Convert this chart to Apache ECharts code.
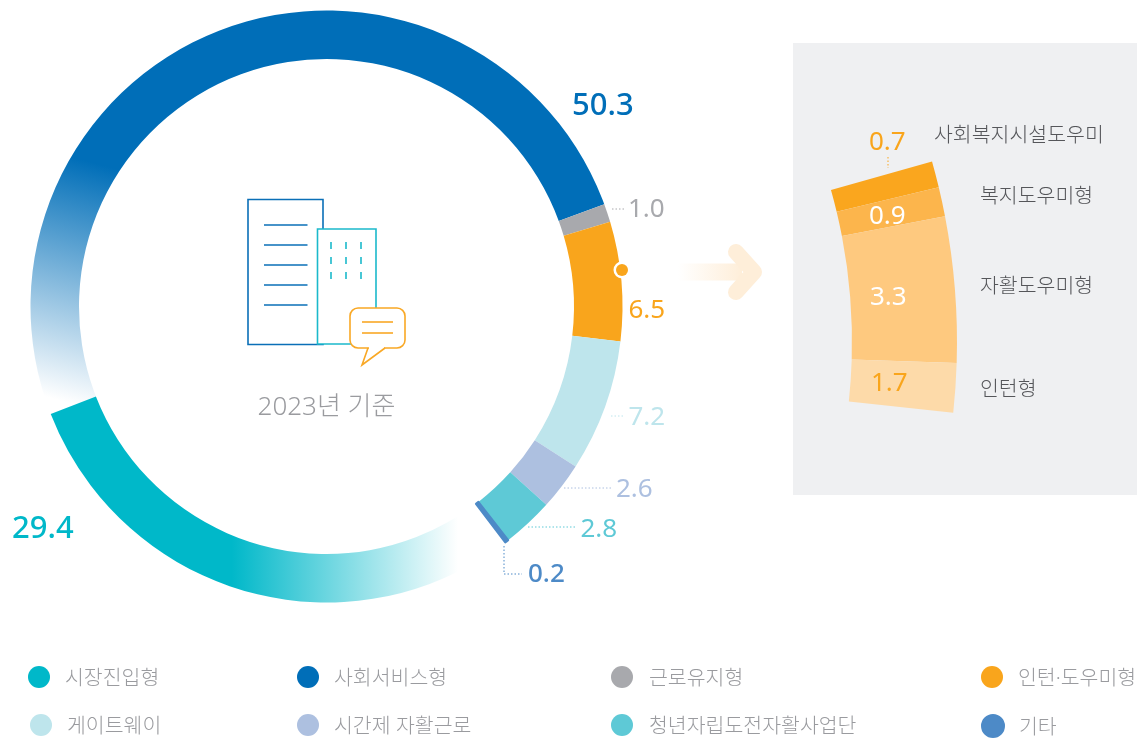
<!DOCTYPE html>
<html><head><meta charset="utf-8">
<style>html,body{margin:0;padding:0;background:#fff}#c{width:1137px;height:739px}</style>
<script src="https://cdn.jsdelivr.net/npm/echarts@6/dist/echarts.min.js"></script>
</head><body><div id="c"></div>
<script>
const ringNames = ['사회서비스형','근로유지형','인턴·도우미형','게이트웨이','시간제 자활근로','청년자립도전자활사업단','기타','시장진입형'];
const ringValues = [50.3,1.0,6.5,7.2,2.6,2.8,0.2,29.4];
const ringColors = ['#006eb8','#a8a9ad','#f9a51c','#bee5ec','#adc0e0','#5ec9d6','#4d8ac7','#00b8c9'];
const legendOrder = ['시장진입형','사회서비스형','근로유지형','인턴·도우미형','게이트웨이','시간제 자활근로','청년자립도전자활사업단','기타'];
const detailNames = ['사회복지시설도우미','복지도우미형','자활도우미형','인턴형'];
const detailValues = [0.7,0.9,3.3,1.7];
// the share of the arc each piece occupies in the picture (the source arc is not to scale)
const detailDrawnShare = [2.3,2.55,12.7,4.3];
const detailColors = ['#faa61e','#fcb54c','#fec97f','#fddaa9'];
const centerCaption = '2023년 기준';

const NUM = '"Noto Sans","Noto Sans CJK KR",sans-serif';
const Z = 10;
const blueFade = {type:'linear',global:true,x:120,y:170,x2:58,y2:400,
  colorStops:[{offset:0,color:'#006eb8'},{offset:1,color:'#ffffff'}]};
const tealFade = {type:'linear',global:true,x:232,y:0,x2:458,y2:0,
  colorStops:[{offset:0,color:'rgba(0,184,201,1)'},{offset:1,color:'rgba(0,184,201,0)'}]};

const legendPos = [[28,666],[297,666],[611,666],[981,666],[30,714],[297,714],[611,714],[981,714]];
const legendTextPad = [10,10,11,10,10,10,11,10];
const legends = legendOrder.map((n,i)=>({
  show:true,left:legendPos[i][0],top:legendPos[i][1],orient:'horizontal',padding:0,
  icon:'circle',itemWidth:22,itemHeight:22,itemGap:0,selectedMode:false,
  formatter:'{a|{name}}',
  textStyle:{rich:{a:{color:'#9a9b9f',fontSize:20.5,fontFamily:NUM,fontWeight:300,padding:[4,0,0,legendTextPad[i]]}}},
  data:[{name:n,itemStyle:{color:ringColors[ringNames.indexOf(n)]}}]
}));

const txt=(s,x,y,size,color,opt={})=>({type:'text',z:Z,style:Object.assign({text:String(s),x,y,fontSize:size,fill:color,fontFamily:NUM,textAlign:'left',textVerticalAlign:'middle'},opt)});
const dash=(pts,color)=>({type:'polyline',z:Z,shape:{points:pts},style:{stroke:color,lineWidth:1,lineDash:[1.5,2],fill:null}});
const ln=(x1,y1,x2,y2,color,w)=>({type:'line',z:Z,shape:{x1,y1,x2,y2},style:{stroke:color,lineWidth:w}});
const fmt=v=>v.toFixed(1);

const graphics=[
  {type:'rect',z:0,shape:{x:793,y:43,width:344,height:452},style:{fill:'#eff0f2'}},
  // arrow
  {type:'rect',z:Z,shape:{x:678,y:263.5,width:64,height:17},style:{fill:{type:'linear',x:0,y:0,x2:1,y2:0,colorStops:[{offset:0,color:'rgba(254,238,217,0)'},{offset:1,color:'#feeed9'}]}}},
  {type:'polyline',z:Z,shape:{points:[[736,252],[754,272],[736,292]]},style:{stroke:'#feeed9',lineWidth:16,lineCap:'round',lineJoin:'round',fill:null}},
  // dot on the ring
  {type:'circle',z:Z,shape:{cx:622,cy:270,r:8.5},style:{fill:'#fff'}},
  {type:'circle',z:Z,shape:{cx:622,cy:270,r:6},style:{fill:'#f9a51c'}},
  // icon
  {type:'rect',z:Z,shape:{x:248,y:199.5,width:75,height:145},style:{fill:'none',stroke:'#0a6fb7',lineWidth:1.6}},
  ...[225,245,265,285,305].map(y=>ln(264,y,307.5,y,'#0a6fb7',1.6)),
  {type:'rect',z:Z,shape:{x:317.5,y:229,width:58.5,height:115},style:{fill:'#fff',stroke:'#1bb9cb',lineWidth:1.6}},
  ...[331,346,361].flatMap(x=>[[242,249],[257,264],[272,279]].map(p=>ln(x,p[0],x,p[1],'#1bb9cb',1.6))),
  {type:'rect',z:Z,shape:{x:350,y:308,width:55,height:40,r:8},style:{fill:'#fff',stroke:'#f9a825',lineWidth:1.6}},
  ln(369,348,384,348,'#ffffff',3),
  {type:'polyline',z:Z,shape:{points:[[368,348],[362,365],[385,348]]},style:{stroke:'#f9a825',lineWidth:1.6,fill:null}},
  ln(362,322,393,322,'#f9a825',1.6),ln(362,333,393,333,'#f9a825',1.6),
  txt(centerCaption,326.5,407.5,26,'#9a9b9f',{textAlign:'center',fontWeight:300}),
  // ring labels
  txt(fmt(ringValues[0]),572,106,31,ringColors[0],{fontWeight:500}),
  txt(fmt(ringValues[1]),628,209.5,26,ringColors[1]),
  txt(fmt(ringValues[2]),628.5,310.5,26,ringColors[2]),
  txt(fmt(ringValues[3]),628.5,417.5,26,ringColors[3]),
  txt(fmt(ringValues[4]),616,489.5,26,ringColors[4]),
  txt(fmt(ringValues[5]),580.5,529.5,26,ringColors[5]),
  txt(fmt(ringValues[6]),528,574.5,26,ringColors[6],{fontWeight:500}),
  txt(fmt(ringValues[7]),12,529.5,31,ringColors[7],{fontWeight:500}),
  dash([[612,209],[626,209]],'#a8a9ad'),
  dash([[611,416],[625,416]],'#bee5ec'),
  dash([[564,488],[612,488]],'#adc0e0'),
  dash([[528,527],[576,527]],'#5ec9d6'),
  dash([[504,546],[504,574],[522,574]],'#4d8ac7'),
  // detail labels
  txt(fmt(detailValues[0]),869,142.5,26,'#f9a51c'),
  txt(fmt(detailValues[1]),869,216.5,26,'#ffffff'),
  txt(fmt(detailValues[2]),870,297.5,26,'#ffffff'),
  txt(fmt(detailValues[3]),871,383.5,26,'#f9a51c'),
  dash([[888,157],[888,168]],'#f9a51c'),
  txt(detailNames[0],934,136,20.5,'#55565a',{fontWeight:300}),
  txt(detailNames[1],980,197,20.5,'#55565a',{fontWeight:300}),
  txt(detailNames[2],980,287,20.5,'#55565a',{fontWeight:300}),
  txt(detailNames[3],980,390,20.5,'#55565a',{fontWeight:300})
];

const ringData = ringNames.map((n,i)=>{
  const itemStyle={color:ringColors[i]};
  if(i===0) itemStyle.color=blueFade;
  if(i===7) itemStyle.color=tealFade;
  if(i===6){itemStyle.borderWidth=2;itemStyle.borderColor=ringColors[i];}
  return {name:n,value:ringValues[i],itemStyle};
});
const chart = echarts.init(document.getElementById('c'),null,{renderer:'canvas'});
chart.setOption({
  backgroundColor:'#ffffff',animation:false,
  legend:legends,
  graphic:{elements:graphics},
  series:[
    {type:'pie',z:2,center:[326.5,306.5],radius:[247.5,296],startAngle:201.3,clockwise:true,
     silent:true,label:{show:false},labelLine:{show:false},
     data:ringData},
    {type:'pie',z:2,center:[292,342],radius:[560,665],startAngle:15.75,endAngle:-6.1,clockwise:true,
     silent:true,label:{show:false},labelLine:{show:false},
     data:detailNames.map((n,i)=>({name:n,value:detailDrawnShare[i],itemStyle:{color:detailColors[i]}}))}
  ]
});
</script></body></html>
